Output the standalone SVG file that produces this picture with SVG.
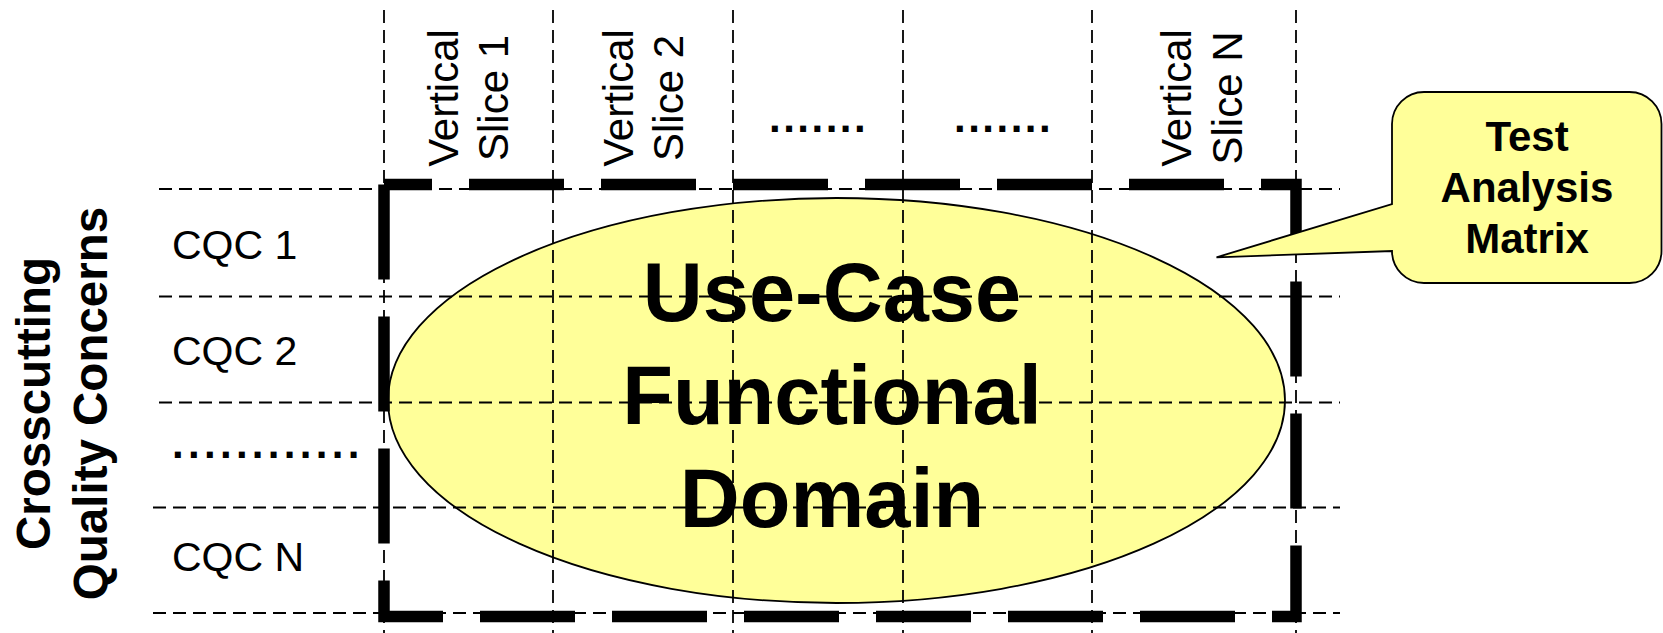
<svg xmlns="http://www.w3.org/2000/svg" width="1663" height="633" viewBox="0 0 1663 633">
<style>
.grid{stroke:#000;stroke-width:1.8;stroke-dasharray:13 7;fill:none}
.thick{stroke:#000;stroke-width:11.5;stroke-dasharray:95 37;fill:none;stroke-linejoin:miter}
.yel{fill:#FFFF99;stroke:#000;stroke-width:1.8}
.reg{font-family:"Liberation Sans",Arial,sans-serif;fill:#000}
.bold{font-family:"Liberation Sans",Arial,sans-serif;font-weight:bold;fill:#000}
</style>
<rect width="1663" height="633" fill="#fff"/>
<g id="domain">
<ellipse class="yel" cx="836.5" cy="400.5" rx="448.5" ry="202.5"/>
</g>
<g id="connectors">
<path class="grid" d="M159,189H1340M159,296.5H1340M159,402.5H1340M153,507.5H1340M153,613H1340"/>
<path class="grid" d="M384,10V633M553,10V633M733,10V633M903,10V633M1092,10V633M1296,10V633"/>
</g>
<g id="domain-label">
<text class="bold" font-size="83" text-anchor="middle" x="832" y="321">Use-Case</text>
<text class="bold" font-size="83" text-anchor="middle" x="832" y="424">Functional</text>
<text class="bold" font-size="83" text-anchor="middle" x="832" y="527">Domain</text>
</g>
<g id="matrix-border">
<path class="thick" d="M384,184.5V616.5H1296V184.5H384"/>
</g>
<g id="callout">
<path class="yel" d="M1424,92H1629.5A32,32 0 0 1 1661.5,124V251A32,32 0 0 1 1629.5,283H1424A32,32 0 0 1 1392,251L1216.5,257.3L1392,204V124A32,32 0 0 1 1424,92Z"/>
<text class="bold" font-size="42" text-anchor="middle" x="1527" y="151">Test</text>
<text class="bold" font-size="42" text-anchor="middle" x="1527" y="202">Analysis</text>
<text class="bold" font-size="42" text-anchor="middle" x="1527" y="253">Matrix</text>
</g>
<g id="axis-label">
<text class="bold" font-size="47.5" text-anchor="middle" transform="translate(50,403.5) rotate(-90)">Crosscutting</text>
<text class="bold" font-size="47.5" text-anchor="middle" transform="translate(107,403.5) rotate(-90)">Quality Concerns</text>
</g>
<g id="slice-1">
<text class="reg" font-size="42" text-anchor="middle" transform="translate(458,98) rotate(-90)">Vertical</text>
<text class="reg" font-size="42" text-anchor="middle" transform="translate(508,98) rotate(-90)">Slice 1</text>
</g>
<g id="slice-2">
<text class="reg" font-size="42" text-anchor="middle" transform="translate(633,98) rotate(-90)">Vertical</text>
<text class="reg" font-size="42" text-anchor="middle" transform="translate(683,98) rotate(-90)">Slice 2</text>
</g>
<g id="slice-dots-1">
<text class="bold" font-size="42" letter-spacing="2.5" x="769" y="132">.......</text>
</g>
<g id="slice-dots-2">
<text class="bold" font-size="42" letter-spacing="2.5" x="954" y="132">.......</text>
</g>
<g id="slice-n">
<text class="reg" font-size="42" text-anchor="middle" transform="translate(1191,98) rotate(-90)">Vertical</text>
<text class="reg" font-size="42" text-anchor="middle" transform="translate(1242,98) rotate(-90)">Slice N</text>
</g>
<g id="cqc-1"><text class="reg" font-size="41" x="172" y="259">CQC 1</text></g>
<g id="cqc-2"><text class="reg" font-size="41" x="172" y="365">CQC 2</text></g>
<g id="cqc-dots"><text class="bold" font-size="42" letter-spacing="4.3" x="172" y="458">............</text></g>
<g id="cqc-n"><text class="reg" font-size="41" x="172" y="570.5">CQC N</text></g>
</svg>
